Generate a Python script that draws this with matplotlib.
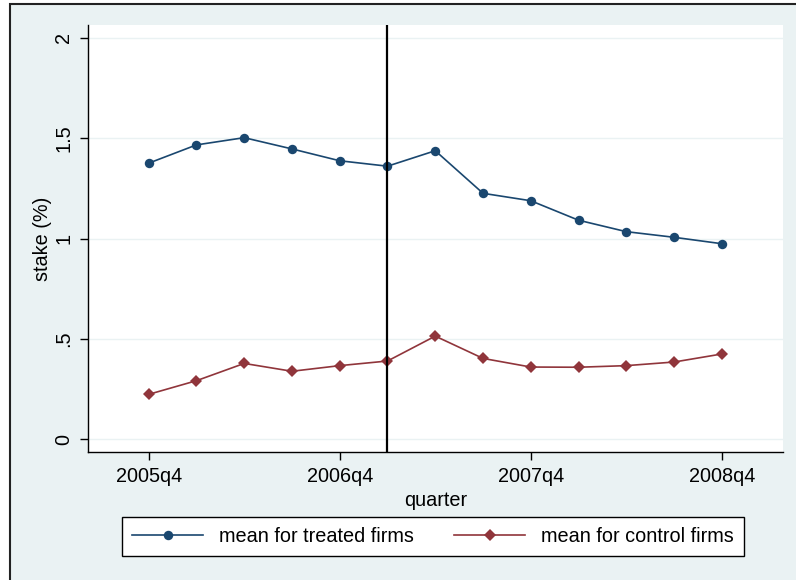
import matplotlib
matplotlib.use("Agg")
import matplotlib.pyplot as plt
from matplotlib.patches import Rectangle
from matplotlib.lines import Line2D

plt.rcParams['font.family'] = ['Liberation Sans', 'DejaVu Sans']

# Quarterly observations, 2005q4 .. 2008q4
quarters = ["2005q4", "2006q1", "2006q2", "2006q3", "2006q4", "2007q1", "2007q2",
            "2007q3", "2007q4", "2008q1", "2008q2", "2008q3", "2008q4"]
treated = [1.375, 1.466, 1.502, 1.446, 1.387, 1.360, 1.437,
           1.225, 1.188, 1.091, 1.034, 1.006, 0.974]
control = [0.224, 0.292, 0.378, 0.339, 0.367, 0.390, 0.514,
           0.403, 0.360, 0.359, 0.367, 0.385, 0.425]
event_quarter = "2007q1"
xtick_labels = ["2005q4", "2006q4", "2007q4", "2008q4"]
ytick_values = [0, 0.5, 1, 1.5, 2]
ytick_labels = ["0", ".5", "1", "1.5", "2"]

NAVY = "#1A476F"
MAROON = "#90353B"
BG = "#EAF2F3"
FS = 14.3

fig = plt.figure(figsize=(7.96, 5.80), dpi=100)
fig.patch.set_facecolor("white")
frame = Rectangle((9.5 / 796, -0.1), 1.2, 1 - 4.5 / 580 + 0.1,
                  transform=fig.transFigure, facecolor=BG,
                  edgecolor="#222222", linewidth=1.5, zorder=-10)
fig.add_artist(frame)

ax = fig.add_axes([88 / 796, 1 - 452 / 580, (783 - 88) / 796, (452 - 25) / 580])
ax.set_zorder(1)
ax.set_facecolor("white")

x = list(range(len(quarters)))
ax.plot(x, treated, color=NAVY, lw=1.2, marker="o", markersize=6.8,
        markeredgewidth=0, label="mean for treated firms", zorder=3)
ax.plot(x, control, color=MAROON, lw=1.2, marker="D", markersize=6.2,
        markeredgewidth=0, label="mean for control firms", zorder=3)
ax.axvline(quarters.index(event_quarter), color="black", lw=1.6, zorder=4)

ax.set_xlim(-1.27, 13.28)
ax.set_ylim(-0.063, 2.063)

ax.set_xticks([quarters.index(q) for q in xtick_labels])
ax.set_xticklabels(xtick_labels, fontsize=FS)
ax.set_yticks(ytick_values)
ax.set_yticklabels(ytick_labels, fontsize=FS, rotation=90, va="center")

ax.grid(axis="y", color=BG, lw=1.0, zorder=1)
ax.set_axisbelow(True)

for s in ["top", "right"]:
    ax.spines[s].set_visible(False)
for s in ["left", "bottom"]:
    ax.spines[s].set_linewidth(1.0)
    ax.spines[s].set_color("black")
ax.tick_params(axis="both", length=5.5, width=1.0, color="black", labelcolor="black")
ax.tick_params(axis="y", pad=5)
ax.tick_params(axis="x", pad=5)

ax.set_xlabel("quarter", fontsize=FS, labelpad=4)
ax.set_ylabel("stake (%)", fontsize=FS)
ax.yaxis.set_label_coords(-0.052, 0.5)

handles = [Line2D([], [], color=NAVY, lw=1.2, marker="o", markersize=6.8, markeredgewidth=0),
           Line2D([], [], color=MAROON, lw=1.2, marker="D", markersize=6.2, markeredgewidth=0)]
leg = fig.legend(handles, ["mean for treated firms", "mean for control firms"],
                 loc="upper left", bbox_to_anchor=(122 / 796, 1 - 517 / 580),
                 ncol=2, fontsize=FS, frameon=True, fancybox=False, framealpha=1,
                 handlelength=3.6, handletextpad=0.8, columnspacing=2.0,
                 borderpad=0.5, borderaxespad=0)
leg.get_frame().set_edgecolor("black")
leg.get_frame().set_linewidth(1.0)
leg.get_frame().set_facecolor("white")
leg.set_zorder(2)

fig.savefig("out.png", dpi=100, facecolor=fig.get_facecolor())
